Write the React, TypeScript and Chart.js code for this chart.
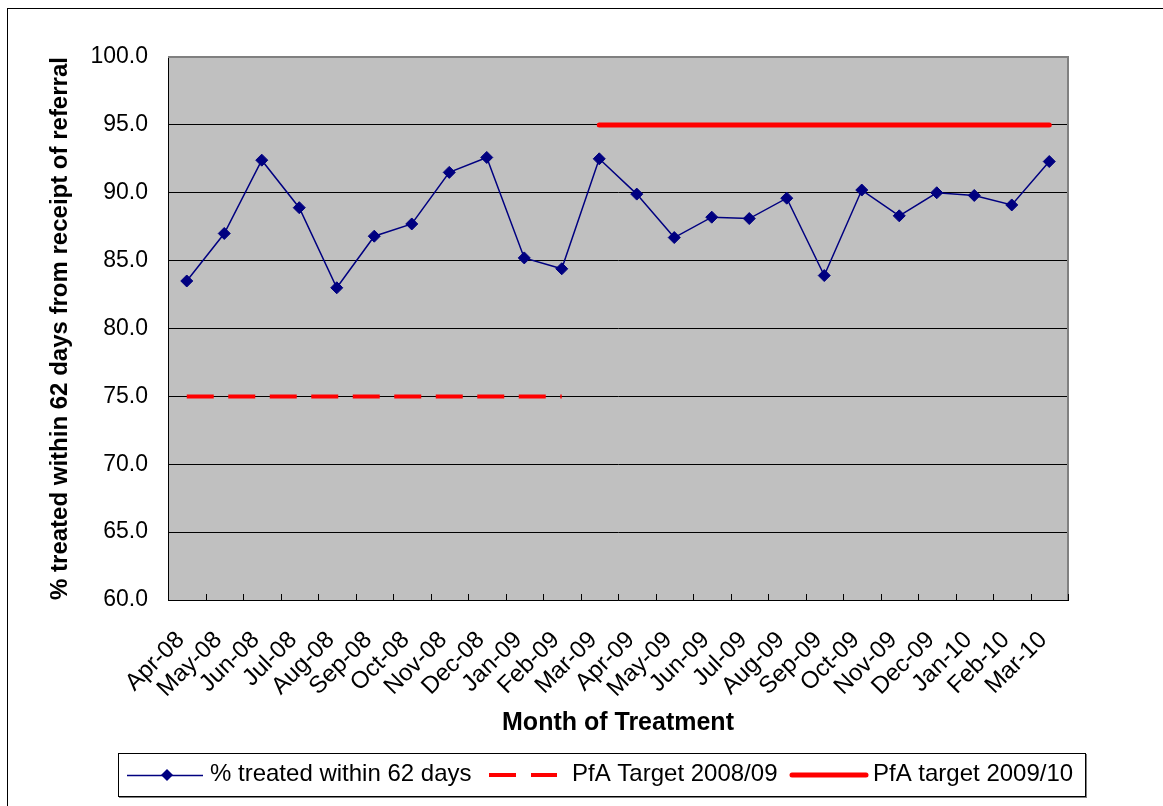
import React, { useEffect, useRef } from "react";
import { Chart, registerables } from "chart.js";

Chart.register(...registerables);

const months = [
  "Apr-08", "May-08", "Jun-08", "Jul-08", "Aug-08", "Sep-08", "Oct-08", "Nov-08",
  "Dec-08", "Jan-09", "Feb-09", "Mar-09", "Apr-09", "May-09", "Jun-09", "Jul-09",
  "Aug-09", "Sep-09", "Oct-09", "Nov-09", "Dec-09", "Jan-10", "Feb-10", "Mar-10",
];

const treatedPct = [
  83.5, 87.0, 92.4, 88.9, 83.0, 86.8, 87.7, 91.5, 92.6, 85.2, 84.4, 92.5,
  89.9, 86.7, 88.2, 88.1, 89.6, 83.9, 90.2, 88.3, 90.0, 89.8, 89.1, 92.3,
];

const target0809 = [
  75, 75, 75, 75, 75, 75, 75, 75, 75, 75, 75, null,
  null, null, null, null, null, null, null, null, null, null, null, null,
];

const target0910 = [
  null, null, null, null, null, null, null, null, null, null, null, 95,
  95, 95, 95, 95, 95, 95, 95, 95, 95, 95, 95, 95,
];

const yTicks = [60, 65, 70, 75, 80, 85, 90, 95, 100];

const FONT = "'Liberation Sans', Arial, sans-serif";

const framePlugin = {
  id: "frame",
  beforeDraw(chart: any) {
    const { ctx, chartArea: a } = chart;
    ctx.save();
    ctx.fillStyle = "#ffffff";
    ctx.fillRect(0, 0, chart.width, chart.height);
    ctx.strokeStyle = "#000000";
    ctx.lineWidth = 1;
    ctx.strokeRect(7.5, 8.5, chart.width + 20, chart.height + 20);
    ctx.fillStyle = "#C0C0C0";
    ctx.fillRect(a.left, a.top, a.right - a.left, a.bottom - a.top);
    ctx.restore();
  },
  beforeDatasetsDraw(chart: any) {
    const { ctx, chartArea: a } = chart;
    ctx.save();
    ctx.strokeStyle = "#808080";
    ctx.lineWidth = 2;
    ctx.beginPath();
    ctx.moveTo(a.left, a.top);
    ctx.lineTo(a.right, a.top);
    ctx.lineTo(a.right, a.bottom);
    ctx.stroke();
    // inner category tick marks on the x axis
    const xs = chart.scales.x;
    const n = chart.data.labels.length;
    const half = (xs.getPixelForValue(1) - xs.getPixelForValue(0)) / 2;
    ctx.strokeStyle = "#000000";
    ctx.lineWidth = 1;
    ctx.beginPath();
    for (let i = 0; i <= n; i++) {
      const x = Math.round(xs.getPixelForValue(i) - half) + 0.5;
      ctx.moveTo(x, a.bottom - 6);
      ctx.lineTo(x, a.bottom);
    }
    ctx.stroke();
    ctx.restore();
  },
  afterDraw(chart: any) {
    const { ctx } = chart;
    const ds = chart.data.datasets;
    ctx.save();
    // legend box
    ctx.fillStyle = "#ffffff";
    ctx.fillRect(118, 753, 967, 44);
    ctx.strokeStyle = "#808080";
    ctx.lineWidth = 2;
    ctx.beginPath();
    ctx.moveTo(119, 797);
    ctx.lineTo(1086, 797);
    ctx.lineTo(1086, 754);
    ctx.stroke();
    ctx.strokeStyle = "#000000";
    ctx.lineWidth = 1;
    ctx.strokeRect(118.5, 753.5, 967, 43);

    const y = 775;
    ctx.font = `24px ${FONT}`;
    ctx.textBaseline = "middle";
    ctx.textAlign = "left";

    // item 1
    ctx.strokeStyle = ds[0].borderColor;
    ctx.lineWidth = ds[0].borderWidth;
    ctx.beginPath();
    ctx.moveTo(127, y + 0.5);
    ctx.lineTo(203, y + 0.5);
    ctx.stroke();
    ctx.fillStyle = ds[0].borderColor;
    ctx.beginPath();
    ctx.moveTo(167, y - 6);
    ctx.lineTo(173, y);
    ctx.lineTo(167, y + 6);
    ctx.lineTo(161, y);
    ctx.closePath();
    ctx.fill();
    ctx.fillStyle = "#000000";
    ctx.fillText(ds[0].label, 210, y - 1);

    // item 2
    ctx.strokeStyle = ds[1].borderColor;
    ctx.lineWidth = ds[1].borderWidth;
    ctx.beginPath();
    ctx.moveTo(489, y);
    ctx.lineTo(516, y);
    ctx.moveTo(531, y);
    ctx.lineTo(557, y);
    ctx.stroke();
    ctx.fillStyle = "#000000";
    ctx.fillText(ds[1].label, 572, y - 1);

    // item 3
    ctx.strokeStyle = ds[2].borderColor;
    ctx.lineWidth = ds[2].borderWidth;
    ctx.lineCap = "round";
    ctx.beginPath();
    ctx.moveTo(792, y);
    ctx.lineTo(866, y);
    ctx.stroke();
    ctx.fillStyle = "#000000";
    ctx.fillText(ds[2].label, 873, y - 1);
    ctx.restore();
  },
};

export default function App() {
  const ref = useRef<HTMLCanvasElement | null>(null);

  useEffect(() => {
    if (!ref.current) return;
    const chart = new Chart(ref.current, {
      type: "line",
      data: {
        labels: months,
        datasets: [
          {
            label: "% treated within 62 days",
            data: treatedPct,
            borderColor: "#000080",
            backgroundColor: "#000080",
            borderWidth: 1.5,
            pointStyle: "rectRot",
            pointRadius: 6,
            pointBackgroundColor: "#000080",
            pointBorderColor: "#000080",
            pointBorderWidth: 1,
            tension: 0,
          },
          {
            label: "PfA Target 2008/09",
            data: target0809,
            borderColor: "#FF0000",
            borderWidth: 4,
            borderDash: [27, 14.5],
            borderCapStyle: "butt",
            pointRadius: 0,
            spanGaps: false,
          },
          {
            label: "PfA target 2009/10",
            data: target0910,
            borderColor: "#FF0000",
            borderWidth: 5,
            borderCapStyle: "round",
            pointRadius: 0,
            spanGaps: false,
          },
        ],
      },
      options: {
        animation: false,
        responsive: true,
        maintainAspectRatio: false,
        layout: { padding: { left: 42, top: 57, right: 95, bottom: 64 } },
        plugins: {
          legend: { display: false },
          tooltip: { enabled: false },
        },
        scales: {
          x: {
            type: "category",
            offset: true,
            grid: { display: true, drawOnChartArea: false, drawTicks: false },
            border: { display: true, color: "#000000", width: 1 },
            ticks: {
              color: "#000000",
              font: { family: FONT, size: 24 },
              minRotation: 45,
              maxRotation: 45,
              autoSkip: false,
              padding: 26,
              labelOffset: -6,
            },
            title: {
              display: true,
              text: "Month of Treatment",
              color: "#000000",
              font: { family: FONT, size: 25, weight: "bold" },
              padding: { top: 0, bottom: 4 },
            },
            afterFit(scale: any) {
              scale.height = 142;
            },
          },
          y: {
            min: 60,
            max: 100,
            afterBuildTicks(scale: any) {
              scale.ticks = yTicks.map((v) => ({ value: v }));
            },
            grid: {
              color: (c: any) => (c.tick && c.tick.value === 100 ? "rgba(0,0,0,0)" : "#000000"),
              lineWidth: 1,
              drawTicks: false,
            },
            border: { display: true, color: "#000000", width: 1 },
            ticks: {
              color: "#000000",
              font: { family: FONT, size: 23 },
              padding: 20,
              callback: (v: any) => Number(v).toFixed(1),
            },
            title: {
              display: true,
              text: "% treated within 62 days from receipt of referral",
              color: "#000000",
              font: { family: FONT, size: 24, weight: "bold" },
              padding: { top: 4, bottom: 0 },
            },
            afterFit(scale: any) {
              scale.width = 126;
            },
          },
        },
      },
      plugins: [framePlugin],
    });
    return () => chart.destroy();
  }, []);

  return (
    <div style={{ position: "fixed", left: 0, top: 0, width: 1163, height: 806 }}>
      <canvas ref={ref} />
    </div>
  );
}
